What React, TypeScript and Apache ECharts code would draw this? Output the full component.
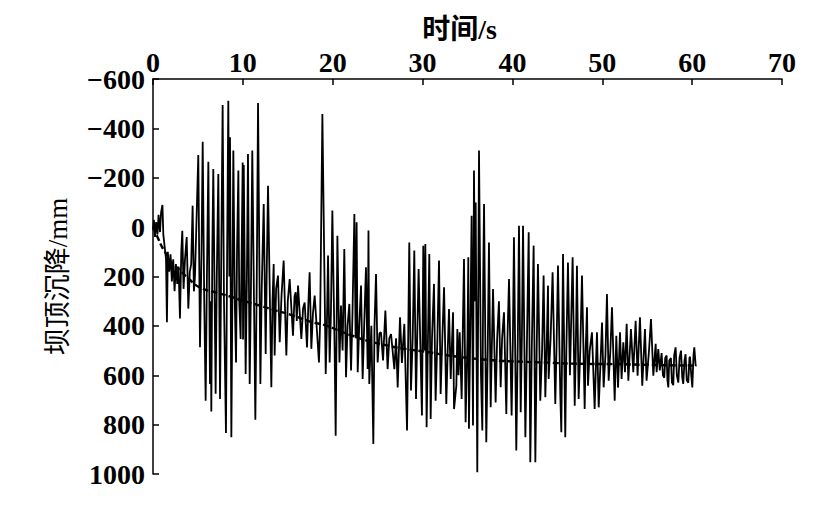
import React, { useEffect, useRef } from "react";
import * as echarts from "echarts";

// time (s), settlement (mm)
const seg0to5: [number, number][] = [
  [0, 10], [0.1, -30], [0.22, 40], [0.35, -20], [0.5, 30], [0.62, -50], [0.78, 20], [0.9, -60],
  [1.05, -90], [1.15, 30], [1.3, 80], [1.45, 130], [1.55, 385], [1.65, 100], [1.8, 180], [1.95, 110],
  [2.1, 220], [2.25, 130], [2.4, 260], [2.55, 150], [2.7, 230], [2.85, 160], [3.0, 370], [3.15, 100],
  [3.26, 15], [3.4, 250], [3.56, 130], [3.75, 40], [3.93, 330], [4.1, 180], [4.25, 150], [4.41, -87],
  [4.55, 260], [4.67, 200],
];
const seg5to10: [number, number][] = [
  [5.04, -292], [5.23, 487], [5.4, 100], [5.53, -346], [5.7, 300], [5.86, 703], [6.0, 200], [6.16, -265],
  [6.34, 635], [6.42, 300], [6.49, 747], [6.6, 100], [6.71, -235], [6.97, 675], [7.1, 200], [7.27, -215],
  [7.46, 696], [7.6, 100], [7.75, -495], [7.9, 300], [8.12, 834], [8.25, 100], [8.38, -512], [8.5, 200],
  [8.57, -364], [8.72, 851], [8.85, 200], [8.94, -310], [9.1, 300], [9.24, 548], [9.35, 100], [9.5, -229],
  [9.6, 300], [9.75, 453], [9.85, 150], [9.98, -262],
];
const seg10to20: [number, number][] = [
  [10.02, 455], [10.1, -252], [10.31, 595], [10.45, 200], [10.57, -296], [10.76, 635], [10.9, 250],
  [11.05, -310], [11.39, 780], [11.55, 200], [11.69, -503], [11.95, 635], [12.1, 250], [12.32, -94],
  [12.54, 514], [12.65, 200], [12.8, -168], [13.17, 649], [13.3, 300], [13.43, 149], [13.54, 520],
  [13.7, 250], [13.91, 196], [14.1, 466], [14.3, 280], [14.54, 135], [14.84, 520], [15.0, 300],
  [15.21, 210], [15.58, 440], [15.75, 280], [15.88, 264], [16.0, 380], [16.14, 237], [16.51, 453],
  [16.7, 330], [16.88, 305], [17.14, 487], [17.3, 300], [17.43, 183], [17.62, 493], [17.8, 350],
  [17.99, 277], [18.47, 548], [18.6, 380], [18.85, -458], [19.22, 595], [19.35, 400], [19.48, 115],
  [19.66, 548], [19.8, 350], [19.96, -67],
];
const seg20to30: [number, number][] = [
  [20.22, 514], [20.33, 845], [20.52, 35], [20.75, 548], [20.92, 318], [21.1, 500], [21.29, 89],
  [21.48, 608], [21.65, 400], [21.85, 311], [22.04, 581], [22.2, 350], [22.41, -53], [22.55, 450],
  [22.66, -20], [22.78, 588], [22.95, 400], [23.15, 237], [23.33, 615], [23.5, 400], [23.7, 163],
  [23.89, 575], [23.98, 14], [24.07, 635], [24.3, 400], [24.52, 878], [24.65, 400], [24.82, 190],
  [25.0, 548], [25.2, 430], [25.37, 426], [25.6, 540], [25.86, 338], [26.11, 575], [26.3, 450],
  [26.49, 433], [26.86, 575], [27.05, 450], [27.23, 649], [27.49, 365], [27.7, 550], [27.97, 392],
  [28.27, 824], [28.4, 450], [28.52, 62], [28.71, 662], [28.9, 450], [29.08, 95], [29.27, 696],
  [29.4, 450], [29.56, 170], [29.93, 763],
];
const seg30to41: [number, number][] = [
  [30.08, 75], [30.2, 500], [30.31, 68], [30.45, 811], [30.6, 450], [30.75, 109], [30.9, 777],
  [31.05, 450], [31.27, 230], [31.45, 703], [31.65, 450], [31.83, 135], [32.01, 676], [32.2, 450],
  [32.39, 244], [32.64, 716], [32.8, 500], [32.94, 332], [33.13, 615], [33.39, 345], [33.5, 737],
  [33.76, 642], [33.87, 413], [34.0, 600], [34.13, 426], [34.35, 696], [34.61, 129], [34.79, 790],
  [35.0, 450], [35.09, 122], [35.16, 817], [35.3, 450], [35.46, -46], [35.61, 804], [35.72, -229],
  [35.85, 300], [35.91, -100], [36.09, 993], [36.28, -310], [36.5, 600], [36.65, 824], [36.75, 200],
  [36.84, -94], [37.09, 871], [37.25, 500], [37.39, 62], [37.58, 730], [37.7, 500], [37.84, 251],
  [38.13, 710], [38.3, 450], [38.5, 300], [38.69, 649], [38.85, 450], [39.06, 345], [39.32, 757],
  [39.45, 450], [39.62, 210], [39.91, 763], [40.05, 450], [40.17, 41], [40.43, 905], [40.6, 450],
  [40.73, -6], [40.92, 750], [41.05, 450], [41.18, -6],
];
const seg41to52: [number, number][] = [
  [41.44, 851], [41.6, 500], [41.81, 21], [41.99, 952], [42.15, 500], [42.36, 75], [42.55, 952],
  [42.7, 500], [42.84, 149], [43.1, 703], [43.3, 500], [43.47, 196], [43.66, 689], [43.8, 500],
  [43.96, 237], [44.03, 615], [44.25, 450], [44.47, 183], [44.77, 716], [44.9, 500], [45.07, 156],
  [45.33, 683], [45.44, 831], [45.63, 109], [45.88, 851], [46.0, 500], [46.18, 143], [46.4, 600],
  [46.7, 122], [46.93, 723], [47.05, 500], [47.18, 156], [47.37, 696], [47.55, 500], [47.74, 196],
  [48.04, 737], [48.15, 500], [48.3, 325], [48.41, 642], [48.6, 500], [48.85, 426], [49.15, 737],
  [49.3, 550], [49.41, 426], [49.6, 730], [49.8, 550], [49.97, 386], [50.15, 649], [50.35, 520],
  [50.52, 271], [50.71, 622], [50.9, 500], [51.08, 325], [51.38, 703], [51.56, 440], [51.75, 650],
];
const seg52to61: [number, number][] = [
  [51.97, 426], [52.15, 615], [52.34, 467], [52.53, 588], [52.71, 392], [52.9, 622], [53.19, 413],
  [53.45, 588], [53.71, 379], [53.93, 602], [54.19, 365], [54.45, 642], [54.75, 413], [54.93, 622],
  [55.2, 500], [55.42, 372], [55.68, 602], [55.94, 473], [56.05, 588], [56.23, 494], [56.4, 580],
  [56.6, 510], [56.75, 600], [56.9, 610], [57.0, 530], [57.16, 520], [57.25, 620], [57.35, 649],
  [57.45, 540], [57.64, 530], [57.75, 630], [57.9, 640], [58.0, 520], [58.16, 487], [58.3, 600],
  [58.46, 630], [58.6, 530], [58.76, 500], [58.9, 610], [59.01, 635], [59.15, 540], [59.27, 515],
  [59.4, 620], [59.57, 630], [59.7, 530], [59.76, 525], [59.9, 600], [60.02, 649], [60.15, 520],
  [60.24, 487], [60.39, 561], [60.5, 560],
];
// dashed trend curve
const trend: [number, number][] = [
  [0, 0], [0.5, 40], [1, 80], [1.5, 110], [2, 140], [3, 175], [4, 210], [5.2, 244], [7, 265],
  [8.5, 280], [10, 298], [11.9, 318], [13.7, 338], [15.6, 358], [17.4, 382], [19.3, 399], [20.4, 415],
  [22.2, 440], [24, 462], [25.9, 478], [27.8, 492], [30.4, 505], [32, 515], [34.4, 527], [38.1, 540],
  [41, 545], [44, 549], [46.6, 553], [51.5, 555], [55, 558], [60.5, 561],
];
const xTicks = { min: 0, max: 70, interval: 10 };
const yTicks = { min: -600, max: 1000, interval: 200 };

const signal = [
  ...seg0to5, ...seg5to10, ...seg10to20, ...seg20to30, ...seg30to41, ...seg41to52, ...seg52to61,
];

export default function App() {
  const ref = useRef<HTMLDivElement>(null);
  useEffect(() => {
    const chart = echarts.init(ref.current!, null, { renderer: "svg" });
    const font = "Liberation Serif, Noto Sans CJK SC, serif";
    chart.setOption({
      animation: false,
      backgroundColor: "#fff",
      grid: { left: 153, right: 40, top: 79, bottom: 42 },
      xAxis: {
        type: "value",
        position: "top",
        ...xTicks,
        name: "时间/s",
        nameLocation: "middle",
        nameGap: 36,
        nameTextStyle: {
          fontFamily: font,
          fontSize: 28,
          fontWeight: "bold",
          color: "#000",
          padding: [0, 16, 0, 0],
        },
        axisLine: { show: true, onZero: false, lineStyle: { color: "#000", width: 1.5 } },
        axisTick: { show: true, inside: true, length: 6, lineStyle: { color: "#000", width: 1.5 } },
        axisLabel: { fontFamily: font, fontSize: 28, fontWeight: "bold", color: "#000", margin: 3 },
        splitLine: { show: false },
      },
      yAxis: {
        type: "value",
        inverse: true,
        ...yTicks,
        name: "坝顶沉降/mm",
        nameLocation: "middle",
        nameGap: 82,
        nameTextStyle: { fontFamily: font, fontSize: 27, color: "#000" },
        axisLine: { show: true, onZero: false, lineStyle: { color: "#000", width: 1.5 } },
        axisTick: { show: true, inside: true, length: 6, lineStyle: { color: "#000", width: 1.5 } },
        axisLabel: {
          fontFamily: font,
          fontSize: 28,
          fontWeight: "bold",
          color: "#000",
          margin: 8,
          formatter: (v: number) => (v < 0 ? "\u2212" + Math.abs(v) : String(v)),
        },
        splitLine: { show: false },
      },
      series: [
        {
          type: "line",
          data: signal,
          showSymbol: false,
          lineStyle: { color: "#000", width: 1.8 },
        },
        {
          type: "line",
          data: trend,
          smooth: true,
          showSymbol: false,
          lineStyle: { color: "#000", width: 2.4, type: [6, 3] },
        },
      ],
    });
    return () => chart.dispose();
  }, []);
  return (
    <div
      ref={ref}
      style={{ position: "absolute", left: 0, top: 0, width: 822, height: 516 }}
    />
  );
}
